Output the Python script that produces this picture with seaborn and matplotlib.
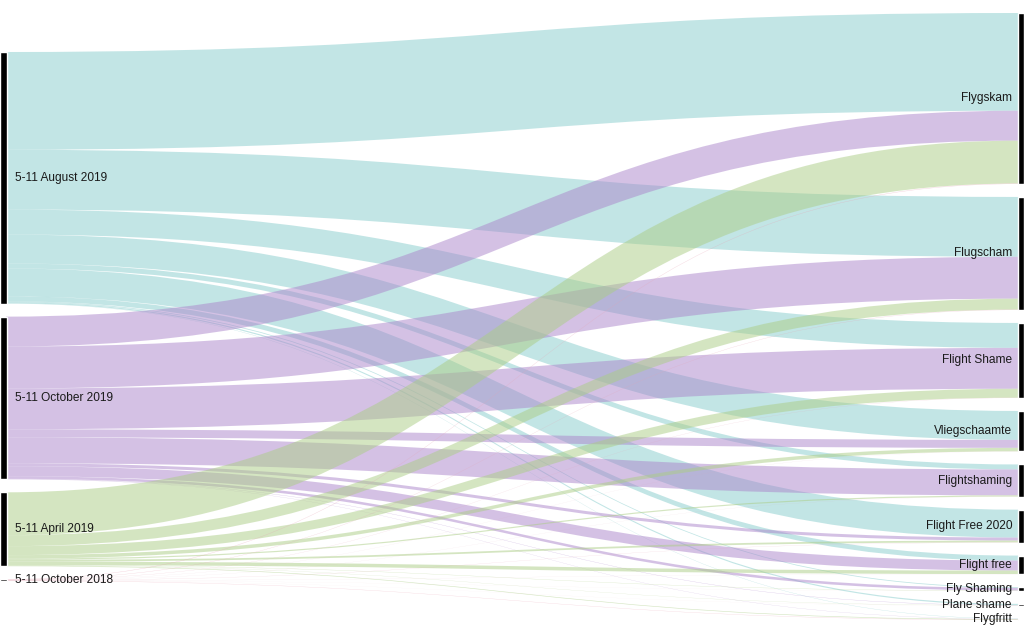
import numpy as np
import matplotlib.pyplot as plt
from matplotlib.path import Path
from matplotlib.patches import PathPatch
import seaborn as sns

# periods (left) and search terms (right)
sources = ['5-11 August 2019', '5-11 October 2019', '5-11 April 2019', '5-11 October 2018']
targets = ['Flygskam', 'Flugscham', 'Flight Shame', 'Vliegschaamte', 'Flightshaming',
           'Flight Free 2020', 'Flight free', 'Fly Shaming', 'Plane shame', 'Flygfritt']

# flow sizes, one list per period, in target order
aug_2019 = [98, 60, 25, 29, 5, 28, 5, 0.8, 1.2, 0.3]
oct_2019 = [30, 42, 41, 8, 26, 3, 10, 2.6, 0.3, 0.2]
apr_2019 = [43, 11, 9, 3.5, 1.2, 1.8, 3.5, 0.3, 0.2, 0.6]
oct_2018 = [0.4, 0.3, 0.2, 0.1, 0.1, 0.2, 0.1, 0.05, 0.05, 0.3]

link_colors = ['#86cccc', '#ab85cb', '#abcd85', '#e6a3b4']

flows = np.array([aug_2019, oct_2019, apr_2019, oct_2018])

sns.set_theme(style='white')
plt.rcParams['font.family'] = ['Liberation Sans', 'DejaVu Sans']

fig = plt.figure(figsize=(10.24, 6.3), dpi=100)
ax = fig.add_axes([0, 0, 1, 1])
ax.set_xlim(0, 1024)
ax.set_ylim(630, 0)
ax.axis('off')

top, bottom = 13, 620
pad = 13
node_w = 6
x_left, x_right = 0, 1018

src_tot = flows.sum(axis=1)
tgt_tot = flows.sum(axis=0)
ky = min((bottom - top - pad * (len(sources) - 1)) / src_tot.sum(),
         (bottom - top - pad * (len(targets) - 1)) / tgt_tot.sum())


def column(totals):
    h = totals * ky
    span = h.sum() + pad * (len(totals) - 1)
    y = top + (bottom - top - span) / 2
    ys = []
    for hh in h:
        ys.append(y)
        y += hh + pad
    return np.array(ys), h


src_y, src_h = column(src_tot)
tgt_y, tgt_h = column(tgt_tot)

# where each link starts / ends
src_cur = src_y.copy()
tgt_cur = tgt_y.copy()
s_start = np.zeros(flows.shape)
t_start = np.zeros(flows.shape)
for i in range(len(sources)):
    for j in range(len(targets)):
        s_start[i, j] = src_cur[i]
        src_cur[i] += flows[i, j] * ky
for j in range(len(targets)):
    for i in range(len(sources)):
        t_start[i, j] = tgt_cur[j]
        tgt_cur[j] += flows[i, j] * ky

x0 = x_left + node_w
x1 = x_right
xm = (x0 + x1) / 2
for i in range(len(sources)):
    for j in range(len(targets)):
        w = flows[i, j] * ky
        s0, t0 = s_start[i, j], t_start[i, j]
        s1, t1 = s0 + w, t0 + w
        verts = [(x0, s0), (xm, s0), (xm, t0), (x1, t0),
                 (x1, t1), (xm, t1), (xm, s1), (x0, s1), (x0, s0)]
        codes = [Path.MOVETO, Path.CURVE4, Path.CURVE4, Path.CURVE4,
                 Path.LINETO, Path.CURVE4, Path.CURVE4, Path.CURVE4, Path.CLOSEPOLY]
        ax.add_patch(PathPatch(Path(verts, codes), facecolor=link_colors[i],
                               edgecolor='none', alpha=0.5, zorder=1))

# node bars
ax.bar(np.full(len(sources), x_left), src_h, bottom=src_y, width=node_w + 1,
       align='edge', color='black', zorder=3)
ax.bar(np.full(len(targets), x_right), tgt_h, bottom=tgt_y, width=node_w,
       align='edge', color='black', zorder=3)

for name, y, h in zip(sources, src_y, src_h):
    ax.text(x_left + node_w + 9, y + h / 2, name, ha='left', va='center',
            fontsize=8.6, color='#1a1a1a', zorder=4)
for name, y, h in zip(targets, tgt_y, tgt_h):
    ax.text(x_right - 6, y + h / 2, name, ha='right', va='center',
            fontsize=8.6, color='#1a1a1a', zorder=4)

fig.savefig('out.png', dpi=100)
